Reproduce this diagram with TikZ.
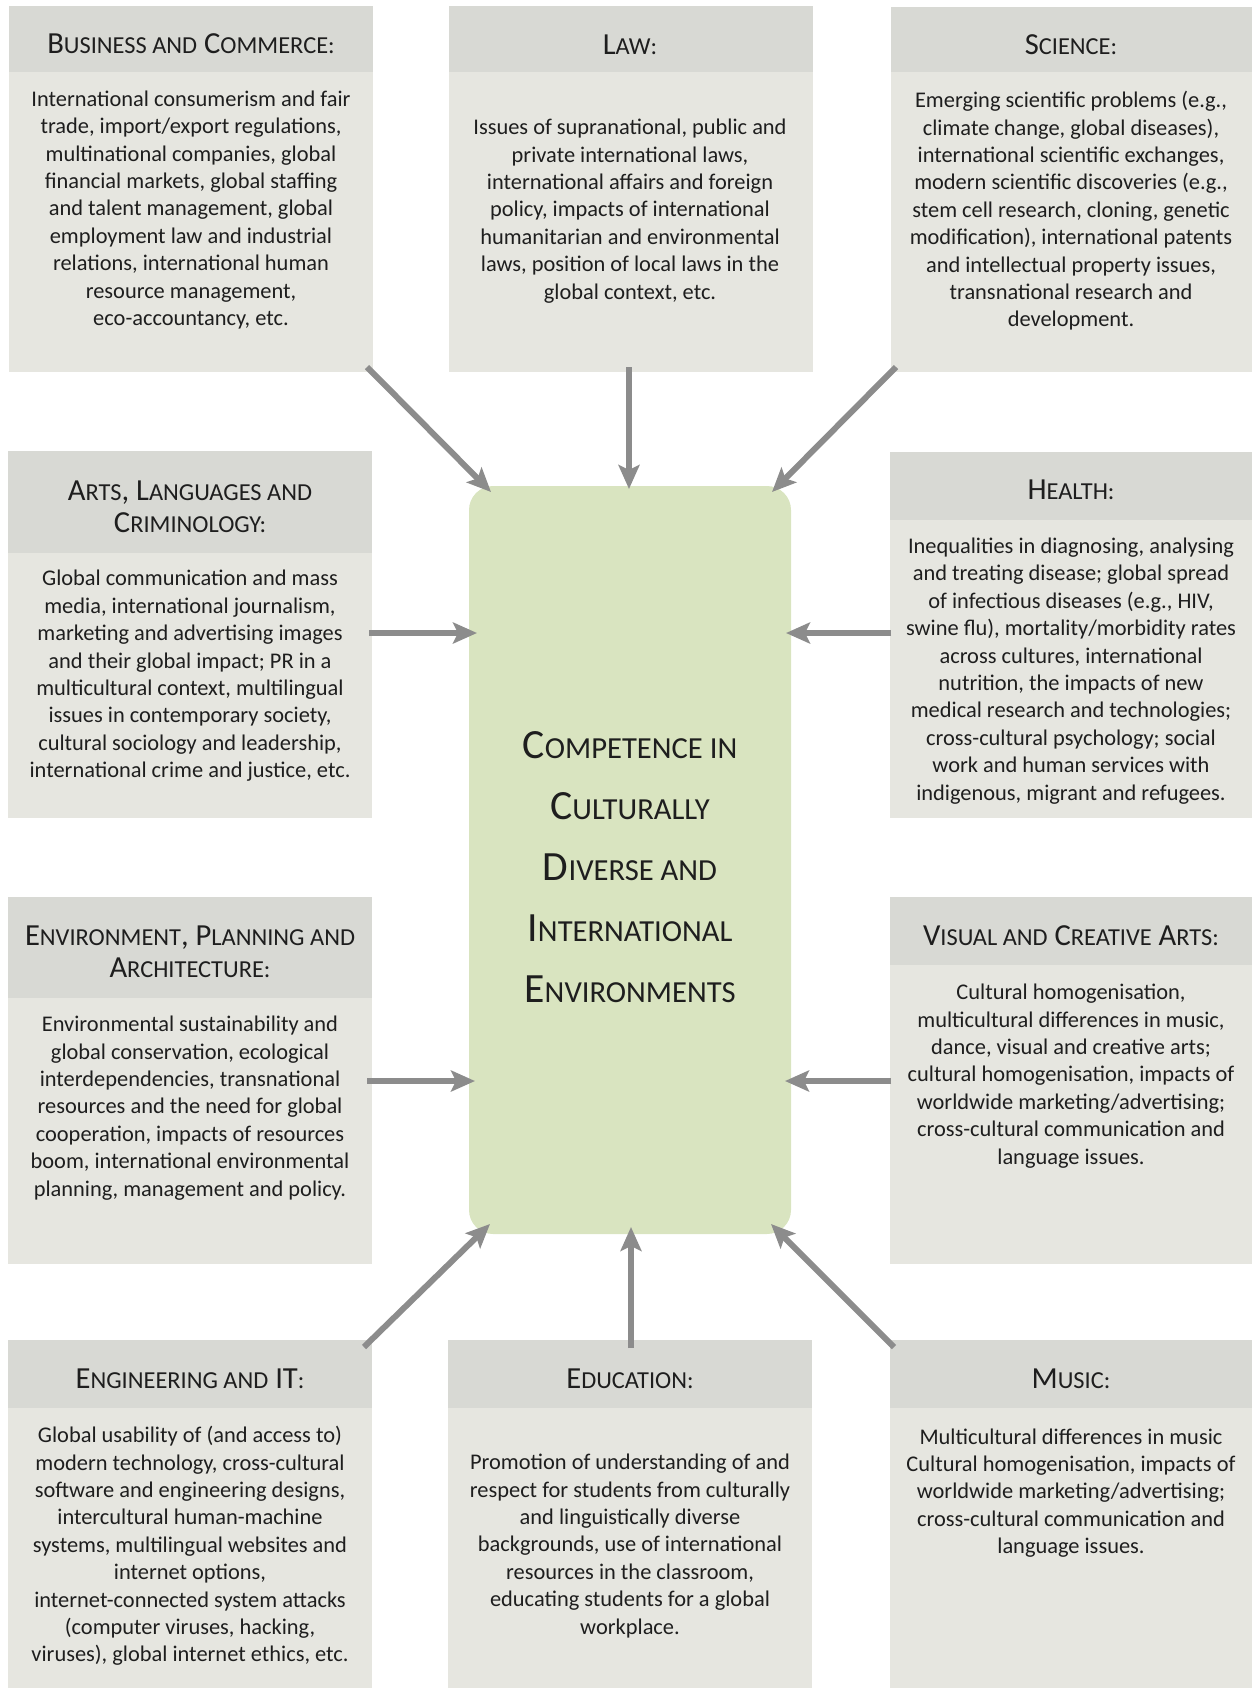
\documentclass[tikz,border=0pt]{standalone}
\usepackage{fontspec}
\setmainfont{Carlito}
\usetikzlibrary{arrows.meta,fit}
\definecolor{hdr}{HTML}{D8D9D4}
\definecolor{bdy}{HTML}{E6E6E0}
\definecolor{grn}{HTML}{D9E4C0}
\definecolor{arrc}{HTML}{8C8C8C}
\definecolor{txt}{HTML}{1E1E1E}
\newcommand\hs[1]{{\fontsize{12.2}{16}\selectfont #1}}
\newcommand\cs[1]{{\fontsize{15.3}{30.5}\selectfont #1}}
\tikzset{
  hdrbox/.style={fill=hdr, draw=none, inner sep=0pt},
  bdybox/.style={fill=bdy, draw=none, inner sep=0pt},
  ctrbox/.style={fill=grn, draw=none, inner sep=0pt, rounded corners=12pt},
  htext/.style={text=txt, align=center, inner sep=0pt, font=\fontsize{15.3}{16}\selectfont},
  btext/.style={text=txt, align=center, inner sep=0pt, font=\fontsize{11.2}{13.7}\selectfont},
  ctext/.style={text=txt, align=center, inner sep=0pt, font=\fontsize{20.8}{30.5}\selectfont},
  arw/.style={draw=arrc, line width=3pt, -{Stealth[length=12pt, width=10.5pt, inset=2.5pt]}}
}
\begin{document}
\begin{tikzpicture}[x=0.5pt, y=-0.5pt]
\useasboundingbox (0,0) rectangle (1252,1688);
% ---------- boxes ----------
% row 1
\node (bizB) [bdybox, fit={(9,72) (373,372)}] {};
\node (bizH) [hdrbox, fit={(9,6) (373,72)}] {};
\node (lawB) [bdybox, fit={(449,72) (813,372)}] {};
\node (lawH) [hdrbox, fit={(449,6) (813,72)}] {};
\node (sciB) [bdybox, fit={(891,72) (1252,372)}] {};
\node (sciH) [hdrbox, fit={(891,7) (1252,72)}] {};
% row 2
\node (artB) [bdybox, fit={(8,553) (372,818)}] {};
\node (artH) [hdrbox, fit={(8,451) (372,553)}] {};
\node (heaB) [bdybox, fit={(890,520) (1252,818)}] {};
\node (heaH) [hdrbox, fit={(890,452) (1252,520)}] {};
% row 3
\node (envB) [bdybox, fit={(8,998) (372,1264)}] {};
\node (envH) [hdrbox, fit={(8,897) (372,998)}] {};
\node (visB) [bdybox, fit={(890,965) (1252,1264)}] {};
\node (visH) [hdrbox, fit={(890,897) (1252,965)}] {};
% row 4
\node (engB) [bdybox, fit={(8,1408) (372,1688)}] {};
\node (engH) [hdrbox, fit={(8,1340) (372,1408)}] {};
\node (eduB) [bdybox, fit={(448,1408) (812,1688)}] {};
\node (eduH) [hdrbox, fit={(448,1340) (812,1408)}] {};
\node (musB) [bdybox, fit={(890,1408) (1252,1688)}] {};
\node (musH) [hdrbox, fit={(890,1340) (1252,1408)}] {};
% centre
\node (ctr) [ctrbox, fit={(469,486) (791,1234)}] {};

% ---------- headers ----------
\node (bizHt) [htext] at (191,44) {B\hs{USINESS AND} C\hs{OMMERCE:}};
\node (lawHt) [htext] at (630,45) {L\hs{AW:}};
\node (sciHt) [htext] at (1071,45) {S\hs{CIENCE:}};
\node (artHt) [htext] at (190,507) {A\hs{RTS}, L\hs{ANGUAGES AND}\\C\hs{RIMINOLOGY:}};
\node (heaHt) [htext] at (1071,490) {H\hs{EALTH:}};
\node (envHt) [htext] at (190,952) {E\hs{NVIRONMENT}, P\hs{LANNING AND}\\A\hs{RCHITECTURE:}};
\node (visHt) [htext] at (1071,936) {V\hs{ISUAL AND} C\hs{REATIVE} A\hs{RTS:}};
\node (engHt) [htext] at (190,1379) {E\hs{NGINEERING AND} IT\hs{:}};
\node (eduHt) [htext] at (630,1379) {E\hs{DUCATION:}};
\node (musHt) [htext] at (1071,1379) {M\hs{USIC:}};

% ---------- bodies ----------
\node (bizBt) [btext] at (191,210) {International consumerism and fair\\
trade, import/export regulations,\\
multinational companies, global\\
financial markets, global staffing\\
and talent management, global\\
employment law and industrial\\
relations, international human\\
resource management,\\
eco-accountancy, etc.};
\node (lawBt) [btext] at (630,211) {Issues of supranational, public and\\
private international laws,\\
international affairs and foreign\\
policy, impacts of international\\
humanitarian and environmental\\
laws, position of local laws in the\\
global context, etc.};
\node (sciBt) [btext] at (1071,211) {Emerging scientific problems (e.g.,\\
climate change, global diseases),\\
international scientific exchanges,\\
modern scientific discoveries (e.g.,\\
stem cell research, cloning, genetic\\
modification), international patents\\
and intellectual property issues,\\
transnational research and\\
development.};
\node (artBt) [btext] at (190,676) {Global communication and mass\\
media, international journalism,\\
marketing and advertising images\\
and their global impact; PR in a\\
multicultural context, multilingual\\
issues in contemporary society,\\
cultural sociology and leadership,\\
international crime and justice, etc.};
\node (heaBt) [btext] at (1071,671) {Inequalities in diagnosing, analysing\\
and treating disease; global spread\\
of infectious diseases (e.g., HIV,\\
swine flu), mortality/morbidity rates\\
across cultures, international\\
nutrition, the impacts of new\\
medical research and technologies;\\
cross-cultural psychology; social\\
work and human services with\\
indigenous, migrant and refugees.};
\node (envBt) [btext] at (190,1108) {Environmental sustainability and\\
global conservation, ecological\\
interdependencies, transnational\\
resources and the need for global\\
cooperation, impacts of resources\\
boom, international environmental\\
planning, management and policy.};
\node (visBt) [btext] at (1071,1076) {Cultural homogenisation,\\
multicultural differences in music,\\
dance, visual and creative arts;\\
cultural homogenisation, impacts of\\
worldwide marketing/advertising;\\
cross-cultural communication and\\
language issues.};
\node (engBt) [btext] at (190,1546) {Global usability of (and access to)\\
modern technology, cross-cultural\\
software and engineering designs,\\
intercultural human-machine\\
systems, multilingual websites and\\
internet options,\\
internet-connected system attacks\\
(computer viruses, hacking,\\
viruses), global internet ethics, etc.};
\node (eduBt) [btext] at (630,1546) {Promotion of understanding of and\\
respect for students from culturally\\
and linguistically diverse\\
backgrounds, use of international\\
resources in the classroom,\\
educating students for a global\\
workplace.};
\node (musBt) [btext] at (1071,1493) {Multicultural differences in music\\
Cultural homogenisation, impacts of\\
worldwide marketing/advertising;\\
cross-cultural communication and\\
language issues.};

% ---------- centre text ----------
\node (ctrt) [ctext] at (630,867) {C\cs{OMPETENCE IN}\\C\cs{ULTURALLY}\\D\cs{IVERSE AND}\\I\cs{NTERNATIONAL}\\E\cs{NVIRONMENTS}};

% ---------- arrows ----------
\coordinate (s1) at (367,367);  \coordinate (t1) at (491,492);
\coordinate (s2) at (629,367);  \coordinate (t2) at (629,489);
\coordinate (s3) at (896,367);  \coordinate (t3) at (772,492);
\coordinate (s4) at (369,633);  \coordinate (t4) at (477,633);
\coordinate (s5) at (891,633);  \coordinate (t5) at (786,633);
\coordinate (s6) at (367,1081); \coordinate (t6) at (475,1081);
\coordinate (s7) at (891,1081); \coordinate (t7) at (785,1081);
\coordinate (s8) at (364,1347); \coordinate (t8) at (490,1224);
\coordinate (s9) at (631,1348); \coordinate (t9) at (631,1227);
\coordinate (s10) at (894,1347); \coordinate (t10) at (771,1224);
\foreach \i in {1,...,10} {\draw[arw] (s\i) -- (t\i);}
\end{tikzpicture}
\end{document}
